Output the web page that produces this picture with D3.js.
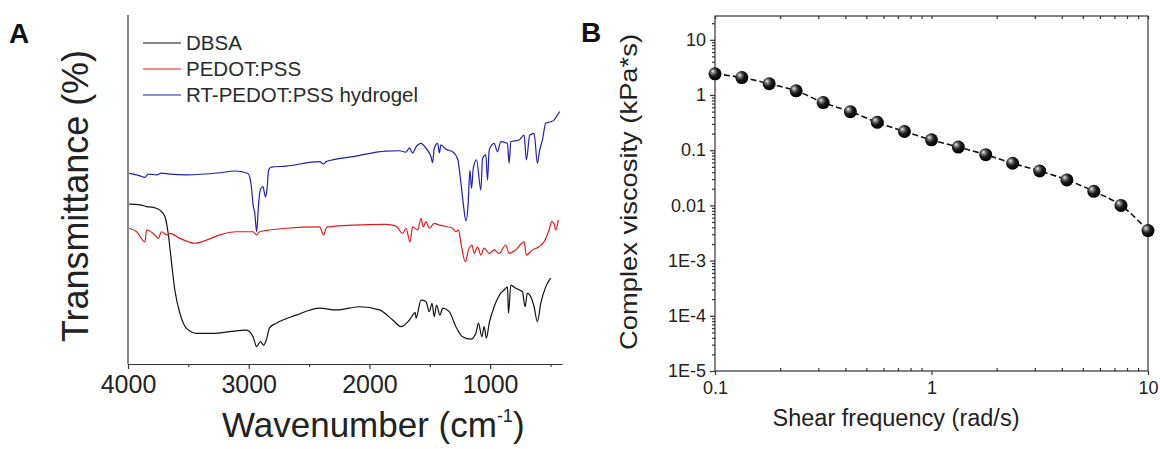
<!DOCTYPE html>
<html lang="en">
<head>
  <meta charset="utf-8">
  <title>FTIR and viscosity</title>
  <script src="https://d3js.org/d3.v7.min.js"></script>
  <style>
    body { margin: 0; background: #fff; }
    svg { font-family: Arial, "Liberation Sans", sans-serif; }
    .axis path, .axis line { stroke: #333; stroke-width: 1.2; }
    .axis text { fill: #222; }
  </style>
</head>
<body>
  <svg id="chart" width="1160" height="449"></svg>

  <script>
    // Panel A - FTIR spectra (wavenumber in cm-1, transmittance in a.u.)
    const dbsaWn = [3990,3901,3846,3791,3736,3694,3667,3639,3612,3570,3515,3433,3295,3157,3019,2964,2934,2904,2876,2854,2826,2771,2606,2413,2275,2083,1917,1807,1738,1669,1620,1614,1573,1532,1504,1482,1463,1444,1416,1394,1339,1284,1229,1160,1118,1097,1069,1050,1031,1008,967,912,884,857,848,829,788,733,711,692,664,636,609,581,540,499];
    const dbsaT = [45.8,45.6,45.1,44.9,44.1,42.2,37.4,28.9,21.2,14.5,10.2,8.8,8.8,9.3,9.7,7.8,5.0,6.4,5.4,6.9,10.5,11.7,14.0,16.0,15.5,16.4,15.5,12.6,10.7,12.6,14.7,13.1,18.3,17.9,15.0,17.4,13.6,16.9,14.0,16.0,15.0,10.7,7.8,7.1,8.8,11.7,7.8,10.7,7.4,11.7,16.4,20.3,21.2,22.1,14.5,22.6,21.7,20.7,16.4,20.3,19.3,16.4,12.1,17.4,22.1,24.6];

    const pedotWn = [3990,3928,3860,3846,3791,3749,3722,3680,3653,3570,3446,3350,3240,3102,2964,2934,2909,2826,2689,2413,2380,2353,2138,1862,1779,1725,1697,1664,1642,1600,1573,1554,1532,1504,1463,1421,1311,1284,1262,1242,1206,1179,1151,1132,1105,1077,1050,1008,967,926,871,843,788,719,700,650,595,554,512,490,471,457,435];
    const pedotT = [38.9,37.9,35.0,38.4,37.4,36.0,37.9,37.0,37.4,36.0,34.6,35.5,37.0,37.9,37.9,37.0,37.9,38.4,38.9,39.3,37.0,39.2,39.8,40.0,39.5,37.4,38.9,35.0,39.3,38.4,41.7,39.3,40.8,38.9,40.3,39.8,38.9,37.9,38.4,34.6,29.3,32.7,34.1,31.7,33.6,31.2,33.2,31.7,32.7,31.7,34.1,31.7,32.7,35.0,31.2,32.7,33.6,35.0,38.4,40.8,40.3,38.4,41.3];

    const hydrogelWn = [3990,3956,3901,3860,3832,3763,3722,3653,3515,3240,3116,3006,2978,2964,2950,2934,2920,2904,2882,2862,2849,2835,2813,2689,2413,2380,2358,2138,1862,1752,1697,1669,1642,1614,1573,1532,1490,1477,1463,1435,1421,1408,1366,1311,1270,1242,1220,1201,1182,1168,1154,1140,1113,1077,1063,1036,1022,1008,967,939,912,857,843,829,760,719,700,672,636,609,590,567,540,499,471,444,424];
    const hydrogelT = [54.6,54.4,53.9,53.5,54.4,54.2,54.7,54.4,54.2,54.8,55.3,54.6,50.8,45.6,43.3,37.9,45.1,49.9,50.8,47.9,49.9,55.6,56.4,56.7,58.0,57.3,58.0,59.4,61.0,61.1,60.7,61.9,60.5,62.2,63.2,61.8,59.4,57.7,61.8,63.2,60.5,62.8,61.5,60.8,58.9,51.8,45.1,41.0,46.1,55.5,50.3,56.1,58.5,49.9,58.9,59.9,52.7,61.3,63.2,60.8,63.7,63.2,57.5,63.7,64.2,65.6,58.5,65.6,66.1,57.5,61.3,64.2,69.0,69.4,69.9,71.3,72.3];

    const seriesNames = ["DBSA", "PEDOT:PSS", "RT-PEDOT:PSS hydrogel"];
    const seriesColors = ["#111111", "#e31a1c", "#1f1fb4"];
    const wnTicks = [4000, 3000, 2000, 1000];
    const wnMinorTicks = [3500, 2500, 1500, 500];

    // Panel B - complex viscosity vs shear frequency
    const freq = [0.1,0.133,0.178,0.237,0.316,0.422,0.562,0.75,1,1.33,1.78,2.37,3.16,4.22,5.62,7.5,10];
    const viscosity = [2.42,2.07,1.60,1.19,0.73,0.50,0.32,0.218,0.154,0.114,0.083,0.058,0.042,0.029,0.018,0.010,0.0035];
    const viscTicks = [10, 1, 0.1, 0.01, 1e-3, 1e-4, 1e-5];
    const viscTickLabels = ["10", "1", "0.1", "0.01", "1E-3", "1E-4", "1E-5"];
    const freqTicks = [0.1, 1, 10];
    const freqTickLabels = ["0.1", "1", "10"];

    const svg = d3.select("#chart");

    // ---------- Panel A ----------
    const xA = d3.scaleLinear().domain([4000, 405]).range([128, 562]);
    const yA = d3.scaleLinear().domain([0, 100]).range([364, 15]);

    const gA = svg.append("g");

    gA.append("g")
        .attr("class", "axis")
        .attr("transform", "translate(0,364)")
        .call(d3.axisBottom(xA).tickValues(wnMinorTicks).tickSize(3).tickFormat(""))
        .call(g => g.select(".domain").remove());

    gA.append("g")
        .attr("class", "axis")
        .attr("transform", "translate(0,364)")
        .call(d3.axisBottom(xA).tickValues(wnTicks).tickSize(5).tickSizeOuter(0).tickPadding(6).tickFormat(d3.format("d")))
        .call(g => g.selectAll("text").attr("font-size", 25));

    gA.append("line")
        .attr("x1", 128).attr("x2", 128)
        .attr("y1", yA(100)).attr("y2", 364)
        .attr("stroke", "#333").attr("stroke-width", 1.2);

    const lineA = d3.line()
        .x(d => xA(d[0]))
        .y(d => yA(d[1]))
        .curve(d3.curveMonotoneX);

    const spectra = [
      d3.zip(dbsaWn, dbsaT),
      d3.zip(pedotWn, pedotT),
      d3.zip(hydrogelWn, hydrogelT)
    ];

    gA.selectAll("path.spec")
      .data(spectra)
      .join("path")
        .attr("class", "spec")
        .attr("fill", "none")
        .attr("stroke", (d, i) => seriesColors[i])
        .attr("stroke-width", 1.2)
        .attr("d", lineA);

    // legend
    const legend = gA.append("g");
    seriesNames.forEach((name, i) => {
      const y = 43 + i * 26;
      legend.append("line")
          .attr("x1", 143).attr("x2", 181)
          .attr("y1", y).attr("y2", y)
          .attr("stroke", seriesColors[i]).attr("stroke-width", 1.2);
      legend.append("text")
          .attr("x", 186).attr("y", y + 7)
          .attr("font-size", 20.5)
          .attr("fill", "#2a2a2a")
          .text(name);
    });

    // axis titles
    gA.append("text")
        .attr("transform", "translate(88,196) rotate(-90)")
        .attr("text-anchor", "middle")
        .attr("font-size", 37)
        .attr("fill", "#222")
        .attr("textLength", 292)
        .attr("lengthAdjust", "spacingAndGlyphs")
        .text("Transmittance (%)");

    const wnTitle = gA.append("text")
        .attr("x", 222).attr("y", 437)
        .attr("font-size", 35)
        .attr("fill", "#222");
    wnTitle.append("tspan").text("Wavenumber (cm");
    wnTitle.append("tspan").attr("font-size", 18).attr("dy", -15).text("-1");
    wnTitle.append("tspan").attr("dy", 15).text(")");

    svg.append("text")
        .attr("x", 9).attr("y", 43)
        .attr("font-size", 28).attr("font-weight", "bold")
        .attr("fill", "#111")
        .text("A");

    // ---------- Panel B ----------
    const xB = d3.scaleLog().domain([0.1, 10]).range([715, 1148]);
    const yB = d3.scaleLog().domain([1e-5, 27]).range([371, 16]);

    const gB = svg.append("g");

    const minorX = [];
    [0.1, 1].forEach(d => { for (let k = 2; k <= 9; k++) minorX.push(d * k); });
    const minorY = [];
    [1e-5, 1e-4, 1e-3, 0.01, 0.1, 1, 10].forEach(d => {
      for (let k = 2; k <= 9; k++) if (d * k < 27) minorY.push(d * k);
    });

    // frame
    gB.append("rect")
        .attr("x", 715).attr("y", 16)
        .attr("width", 1148 - 715).attr("height", 371 - 16)
        .attr("fill", "none").attr("stroke", "#333").attr("stroke-width", 1.2);

    // left axis
    gB.append("g")
        .attr("class", "axis")
        .attr("transform", "translate(715,0)")
        .call(d3.axisLeft(yB).tickValues(minorY).tickSize(3).tickFormat(""))
        .call(g => g.select(".domain").remove());
    gB.append("g")
        .attr("class", "axis")
        .attr("transform", "translate(715,0)")
        .call(d3.axisLeft(yB).tickValues(viscTicks).tickSize(5).tickPadding(4)
          .tickFormat((d, i) => viscTickLabels[i]))
        .call(g => g.select(".domain").remove())
        .call(g => g.selectAll("text").attr("font-size", 18));

    // bottom axis
    gB.append("g")
        .attr("class", "axis")
        .attr("transform", "translate(0,371)")
        .call(d3.axisBottom(xB).tickValues(minorX).tickSize(-3).tickFormat(""))
        .call(g => g.select(".domain").remove());
    gB.append("g")
        .attr("class", "axis")
        .attr("transform", "translate(0,371)")
        .call(d3.axisBottom(xB).tickValues(freqTicks).tickSize(4).tickPadding(6)
          .tickFormat((d, i) => freqTickLabels[i]))
        .call(g => g.select(".domain").remove())
        .call(g => g.selectAll("text").attr("font-size", 18));

    // top axis ticks
    gB.append("g")
        .attr("class", "axis")
        .attr("transform", "translate(0,16)")
        .call(d3.axisTop(xB).tickValues(minorX.concat(freqTicks)).tickSize(-3).tickFormat(""))
        .call(g => g.select(".domain").remove());

    // sphere marker gradient
    const grad = svg.append("defs").append("radialGradient")
        .attr("id", "sphere")
        .attr("cx", "40%").attr("cy", "40%").attr("r", "60%")
        .attr("fx", "32%").attr("fy", "30%");
    grad.append("stop").attr("offset", "0%").attr("stop-color", "#f4f4f4");
    grad.append("stop").attr("offset", "22%").attr("stop-color", "#8a8a8a");
    grad.append("stop").attr("offset", "55%").attr("stop-color", "#1c1c1c");
    grad.append("stop").attr("offset", "100%").attr("stop-color", "#000");

    const viscData = d3.zip(freq, viscosity);

    gB.append("path")
        .datum(viscData)
        .attr("fill", "none")
        .attr("stroke", "#111")
        .attr("stroke-width", 1.6)
        .attr("stroke-dasharray", "6,3")
        .attr("d", d3.line().x(d => xB(d[0])).y(d => yB(d[1])).curve(d3.curveMonotoneX));

    gB.selectAll("circle.pt")
      .data(viscData)
      .join("circle")
        .attr("class", "pt")
        .attr("cx", d => xB(d[0]))
        .attr("cy", d => yB(d[1]))
        .attr("r", 6.5)
        .attr("fill", "url(#sphere)");

    gB.append("text")
        .attr("transform", "translate(637,192) rotate(-90)")
        .attr("text-anchor", "middle")
        .attr("font-size", 24)
        .attr("fill", "#222")
        .attr("textLength", 316)
        .attr("lengthAdjust", "spacingAndGlyphs")
        .text("Complex viscosity (kPa*s)");

    gB.append("text")
        .attr("x", 896).attr("y", 426)
        .attr("text-anchor", "middle")
        .attr("font-size", 23)
        .attr("fill", "#222")
        .attr("textLength", 247)
        .attr("lengthAdjust", "spacingAndGlyphs")
        .text("Shear frequency (rad/s)");

    svg.append("text")
        .attr("x", 581).attr("y", 42)
        .attr("font-size", 28).attr("font-weight", "bold")
        .attr("fill", "#111")
        .text("B");
  </script>
</body>
</html>
